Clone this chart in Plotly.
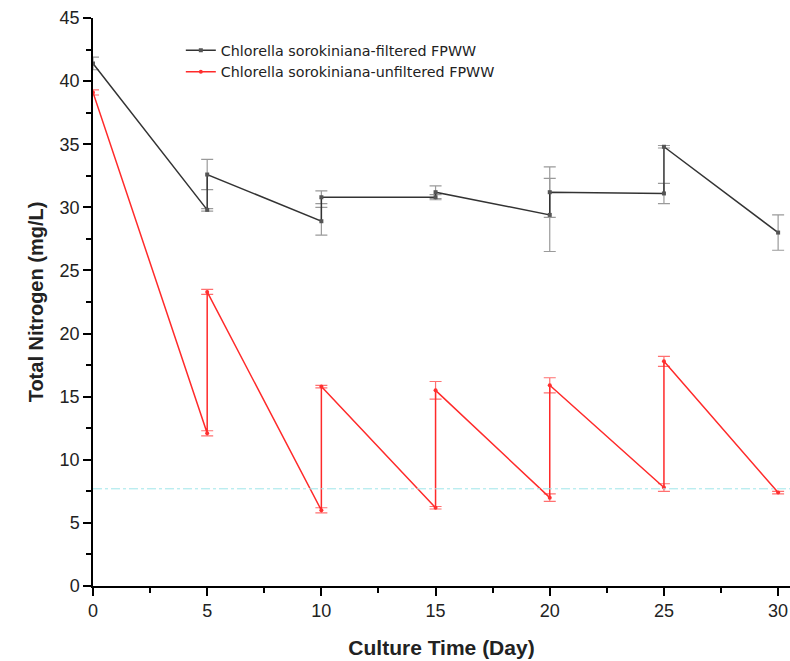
import plotly.graph_objects as go

days = [0, 5, 5, 10, 10, 15, 15, 20, 20, 25, 25, 30]
filtered = [41.4, 29.8, 32.6, 28.9, 30.8, 30.8, 31.2, 29.4, 31.2, 31.1, 34.8, 28.0]
filtered_err = [0.5, 0.1, 1.2, 1.1, 0.5, 0.2, 0.5, 2.9, 2.0, 0.8, 0.1, 1.4]
unfiltered = [39.1, 12.1, 23.3, 6.0, 15.8, 6.2, 15.5, 7.0, 15.9, 7.8, 17.8, 7.4]
unfiltered_err = [0.2, 0.2, 0.2, 0.2, 0.1, 0.1, 0.7, 0.3, 0.6, 0.3, 0.4, 0.1]
ref_level = 7.7

fig = go.Figure()
fig.add_trace(go.Scatter(
    x=days, y=filtered, mode="lines+markers",
    name="Chlorella sorokiniana-filtered FPWW",
    line=dict(color="#333333", width=1.5),
    marker=dict(symbol="square", size=4, color="#555555"),
    error_y=dict(type="data", array=filtered_err, visible=True,
                 color="#9a9a9a", thickness=1.2, width=6),
))
fig.add_trace(go.Scatter(
    x=days, y=unfiltered, mode="lines+markers",
    name="Chlorella sorokiniana-unfiltered FPWW",
    line=dict(color="#ff2a2a", width=1.5),
    marker=dict(symbol="circle", size=4, color="#ff3030"),
    error_y=dict(type="data", array=unfiltered_err, visible=True,
                 color="#ff7070", thickness=1.2, width=6),
))
fig.add_hline(y=ref_level, line=dict(color="#9fe6ea", width=1, dash="dashdot"))

fig.update_layout(
    width=790, height=661,
    margin=dict(l=93, r=0, t=18, b=75),
    plot_bgcolor="white", paper_bgcolor="white",
    font=dict(family="Liberation Sans, Arial, sans-serif", color="#222222", size=18),
    showlegend=True,
    legend=dict(x=0.126, y=0.971, xanchor="left", yanchor="top",
                bgcolor="rgba(0,0,0,0)",
                font=dict(family="DejaVu Sans, sans-serif", size=14.3, color="#222222"),
                tracegroupgap=0, itemwidth=30),
)
fig.update_xaxes(
    range=[0, 30.52], tickvals=[0, 5, 10, 15, 20, 25, 30], automargin=False,
    ticks="outside", ticklen=8, tickwidth=1.5, tickcolor="black",
    showline=True, linecolor="black", linewidth=1.5,
    showgrid=False, zeroline=False,
    minor=dict(ticks="outside", ticklen=5, tickwidth=1.5, tickcolor="black", dtick=2.5, tick0=0),
    title=dict(text="<b>Culture Time (Day)</b>", font=dict(size=21, color="#222222"), standoff=20),
    tickfont=dict(size=18),
)
fig.update_yaxes(
    range=[0, 45], tickvals=[0, 5, 10, 15, 20, 25, 30, 35, 40, 45], automargin=False,
    ticks="outside", ticklen=8, tickwidth=1.5, tickcolor="black",
    showline=True, linecolor="black", linewidth=1.5,
    showgrid=False, zeroline=False,
    minor=dict(ticks="outside", ticklen=5, tickwidth=1.5, tickcolor="black", dtick=2.5, tick0=0),
    title=dict(text="<b>Total Nitrogen (mg/L)</b>", font=dict(size=20, color="#222222"), standoff=11),
    tickfont=dict(size=18),
)

fig.write_html("out.html", config={"displayModeBar": False},
               post_script="document.body.style.margin='0';document.body.style.overflow='hidden';")
